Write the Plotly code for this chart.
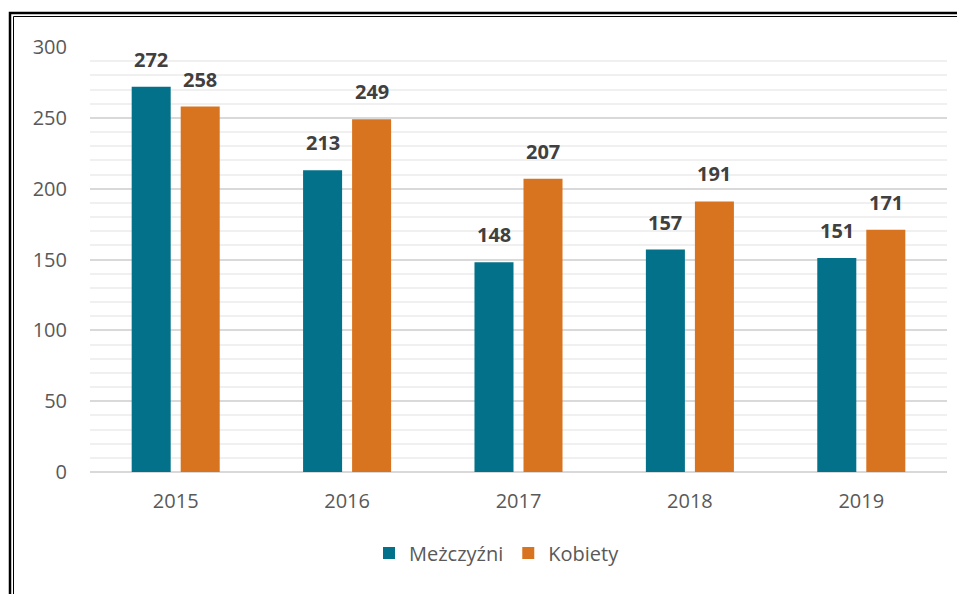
import plotly.graph_objects as go

years = ["2015", "2016", "2017", "2018", "2019"]
men = [272, 213, 148, 157, 151]
women = [258, 249, 207, 191, 171]
series_names = ["Meżczyźni", "Kobiety"]
colors = ["#03718A", "#D8741F"]

OFF = 8  # page body margin
W, H = 965 - OFF, 594 - OFF
L, R, T, B = 90 - OFF, 18, 47 - OFF, 122
pw, ph = W - L - R, H - T - B

def px_x(p):
    return (p - OFF - L) / pw

def px_y(p):
    return (H - B - (p - OFF)) / ph

fig = go.Figure()
for name, vals, col in zip(series_names, [men, women], colors):
    fig.add_trace(go.Bar(x=years, y=vals, name=name, marker=dict(color=col, line=dict(width=0))))

offsets = [-24.5, 24.5]
for vals, off in zip([men, women], offsets):
    for i, v in enumerate(vals):
        fig.add_annotation(x=i, y=v, text=str(v), showarrow=False, xshift=off,
                           yanchor="bottom", yshift=12,
                           font=dict(family="Open Sans", size=20, color="#404040", weight="bold"))

# double frame (top and left visible)
fig.add_shape(type="rect", xref="paper", yref="paper",
              x0=px_x(10), x1=px_x(1000), y0=px_y(13), y1=px_y(640),
              line=dict(color="black", width=2.5), fillcolor="rgba(0,0,0,0)")
fig.add_shape(type="rect", xref="paper", yref="paper",
              x0=px_x(13.5), x1=px_x(1000), y0=px_y(16.5), y1=px_y(640),
              line=dict(color="black", width=1), fillcolor="rgba(0,0,0,0)")

fig.update_layout(
    width=W, height=H,
    margin=dict(l=L, r=R, t=T, b=B, autoexpand=False),
    paper_bgcolor="white", plot_bgcolor="white",
    barmode="group", bargap=0.428, bargroupgap=0.204,
    font=dict(family="Open Sans", size=20, color="#595959"),
    showlegend=True,
    legend=dict(orientation="h", x=px_x(497), xanchor="center", y=px_y(553), yanchor="middle",
                font=dict(family="Open Sans", size=20, color="#595959"),
                itemwidth=30, tracegroupgap=0),
    xaxis=dict(type="category", range=[-0.5, len(years) - 0.5], showgrid=False, showline=False,
               ticks="", ticklabelstandoff=15, tickfont=dict(size=20, color="#595959")),
    yaxis=dict(range=[0, 300], dtick=50, showgrid=True, gridcolor="#D9D9D9", gridwidth=1.5,
               zeroline=True, zerolinecolor="#D9D9D9", zerolinewidth=1.5,
               showline=False, ticks="", ticklabelstandoff=22,
               tickfont=dict(size=20, color="#595959"),
               minor=dict(dtick=10, showgrid=True, gridcolor="#F0F0F0", gridwidth=1.5)),
)

fig.write_html("out.html")
